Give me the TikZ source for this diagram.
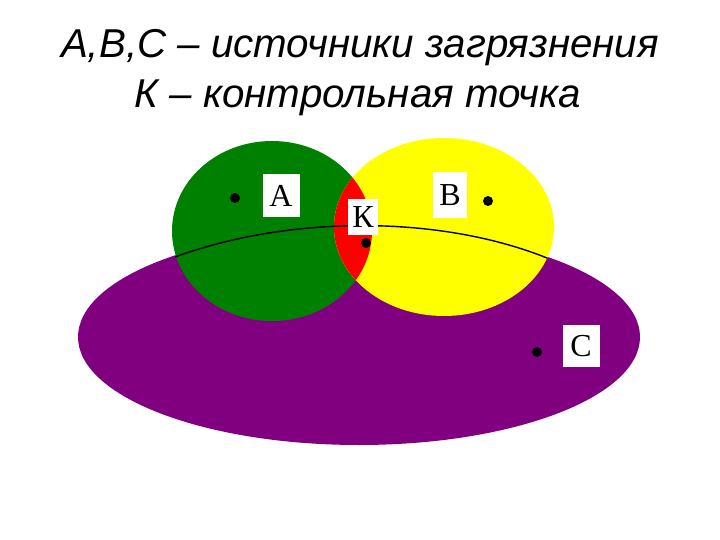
\documentclass[tikz,border=0pt]{standalone}
\usepackage{fontspec}
\newfontfamily\titlefont{Liberation Sans}
\newfontfamily\letterfont{Liberation Serif}
\definecolor{cgreen}{RGB}{0,128,0}
\definecolor{cyellow}{RGB}{255,255,0}
\definecolor{cred}{RGB}{255,0,0}
\definecolor{cpurple}{RGB}{128,0,128}
\tikzset{
  titletext/.style={font=\titlefont\itshape\fontsize{40.3}{42}\selectfont, inner sep=0pt, anchor=base},
  letterbox/.style={fill=white, inner sep=0pt, font=\letterfont\fontsize{32}{33}\selectfont},
  src/.style={circle, fill=black, inner sep=0pt, minimum size=10pt},
}
\begin{document}
\begin{tikzpicture}[x=1pt,y=-1pt]
\useasboundingbox (0,0) rectangle (720,540);
% titles
\node[titletext] (t1) at (360,58) {A,B,C – источники загрязнения};
\node[titletext] (t2) at (358,108) {К – контрольная точка};
% ellipses
\fill[cpurple] (359,337) ellipse [x radius=281, y radius=108];
\fill[cgreen] (272,231) ellipse [x radius=100, y radius=90];
\fill[cyellow] (444,227) ellipse [x radius=110, y radius=89];
\begin{scope}
  \clip (272,231) ellipse [x radius=100, y radius=90];
  \fill[cred] (444,227) ellipse [x radius=110, y radius=89];
\end{scope}
% line
\coordinate (l1) at (175,257);
\coordinate (l2) at (547,258);
\draw[black, line width=1.4pt] (l1) .. controls (290,215) and (440,215) .. (l2);
% sources
\node[src] (da) at (235,198) {};
\node[src] (dk) at (366,243) {};
\node[src] (db) at (488,201) {};
\node[src] (dc) at (537,352) {};
% letter boxes
\node[letterbox, minimum width=37pt, minimum height=43pt] (A) at (281,196) {A};
\node[letterbox, minimum width=30pt, minimum height=35pt] (K) at (363,217) {К};
\node[letterbox, minimum width=34pt, minimum height=46pt] (B) at (450,195) {B};
\node[letterbox, minimum width=37pt, minimum height=42pt] (C) at (581,346) {C};
\end{tikzpicture}
\end{document}
